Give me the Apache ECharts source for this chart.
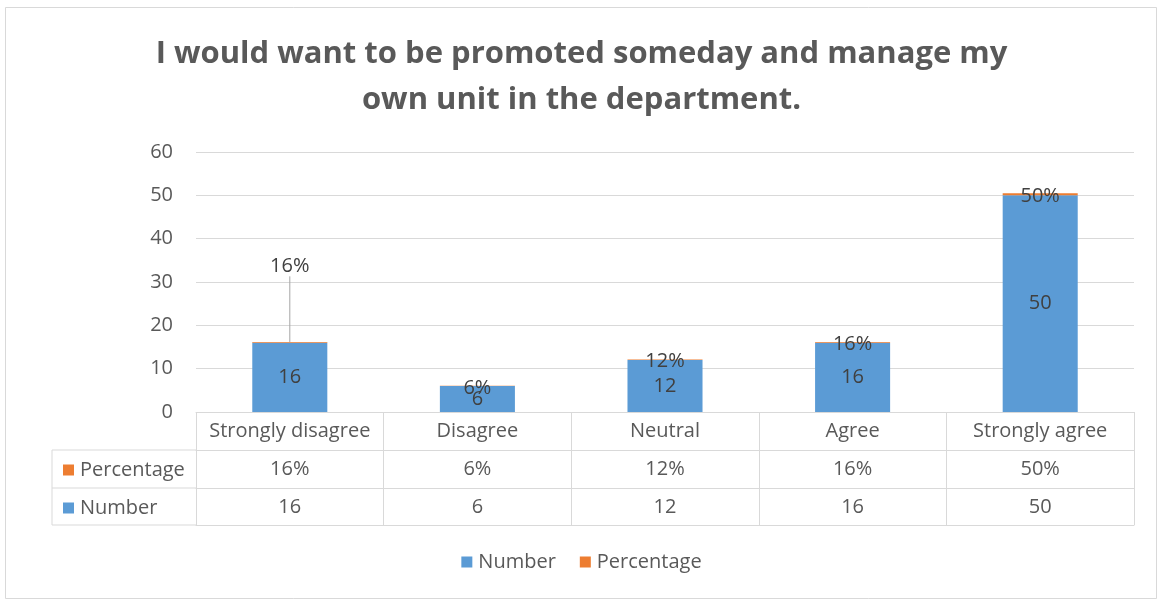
<!DOCTYPE html>
<html>
<head>
<meta charset="utf-8">
<script src="https://cdn.jsdelivr.net/npm/echarts@6/dist/echarts.min.js"></script>
<style>
  html, body { margin: 0; padding: 0; background: #fff; }
  #chart { width: 1163px; height: 600px; }
</style>
</head>
<body>
<div id="chart"></div>
<script>
// Survey responses
const titleText = 'I would want to be promoted someday and manage my\nown unit in the department.';
const categories = ['Strongly disagree', 'Disagree', 'Neutral', 'Agree', 'Strongly agree'];
const numbers = [16, 6, 12, 16, 50];
const percentages = [16, 6, 12, 16, 50];   // shown as "%"
const yTicks = { min: 0, max: 60, interval: 10 };

const FONT = '"Open Sans", Lato, sans-serif';
const TEXT = '#595959';
const LABEL = '#404040';
const RULE = '#d9d9d9';
const BLUE = '#5b9bd5';
const ORANGE = '#ed7d31';
const FS = 20;

// plot area and data table geometry
const G = { left: 196, right: 29, top: 152, bottom: 188 };
const ROW = 38;             // table row height
const TABLE_LEFT = 52;      // left edge of the series-name column
const W = 1163, H = 600;
const axisY = H - G.bottom;

const pctLabels = percentages.map(p => p + '%');
const pctValues = percentages.map(p => p / 100);

const chart = echarts.init(document.getElementById('chart'));

function rowAxis(data, offset, showLabel) {
  return {
    type: 'category',
    data: data,
    position: 'bottom',
    offset: offset,
    boundaryGap: true,
    axisLine: { show: true, lineStyle: { color: RULE, width: 1 } },
    axisTick: { show: false },
    axisLabel: {
      show: showLabel, interval: 0, margin: 7,
      fontFamily: FONT, fontSize: FS, lineHeight: 24, color: TEXT
    },
    splitLine: { show: false }
  };
}

const tableLines = [];
for (let i = 1; i <= 3; i++) {
  const y = axisY + ROW * i - (i === 3 ? 1 : 0);
  tableLines.push({
    type: 'line',
    shape: { x1: TABLE_LEFT, y1: y, x2: G.left, y2: y },
    style: { stroke: RULE, lineWidth: 1 }
  });
}
tableLines.push({
  type: 'line',
  shape: { x1: TABLE_LEFT, y1: axisY + ROW, x2: TABLE_LEFT, y2: axisY + ROW * 3 - 1 },
  style: { stroke: RULE, lineWidth: 1 }
});

chart.setOption({
  backgroundColor: '#fff',
  animation: false,
  title: {
    text: titleText,
    left: 'center',
    top: 26,
    textStyle: { fontFamily: FONT, fontSize: 31, fontWeight: 'bold', color: TEXT, lineHeight: 46 }
  },
  legend: [
    {
      data: ['Number', 'Percentage'],
      bottom: 23,
      left: 'center',
      itemWidth: 11, itemHeight: 11, itemGap: 24,
      icon: 'rect',
      selectedMode: false,
      textStyle: { fontFamily: FONT, fontSize: FS, color: TEXT, padding: [0, 0, 0, 1] }
    },
    {
      data: ['Percentage', 'Number'],
      orient: 'vertical',
      left: TABLE_LEFT + 6,
      top: axisY + ROW + 2,
      itemWidth: 11, itemHeight: 11, itemGap: 12,
      icon: 'rect',
      selectedMode: false,
      textStyle: { fontFamily: FONT, fontSize: FS, color: TEXT, lineHeight: 26, padding: [0, 0, 0, 1] }
    }
  ],
  grid: { left: G.left, right: G.right, top: G.top, bottom: G.bottom, containLabel: false },
  xAxis: [
    {
      type: 'category',
      data: categories,
      boundaryGap: true,
      axisLine: { show: true, lineStyle: { color: RULE, width: 1 } },
      axisTick: { show: true, interval: 0, length: ROW * 3 - 1, lineStyle: { color: RULE, width: 1 } },
      axisLabel: { interval: 0, margin: 7, fontFamily: FONT, fontSize: FS, lineHeight: 24, color: TEXT },
      splitLine: { show: false }
    },
    rowAxis(pctLabels, ROW, true),
    rowAxis(numbers.map(String), ROW * 2, true),
    rowAxis(categories.map(() => ''), ROW * 3 - 1, false)
  ],
  yAxis: {
    type: 'value',
    min: yTicks.min, max: yTicks.max, interval: yTicks.interval,
    axisLine: { show: false },
    axisTick: { show: false },
    axisLabel: { margin: 23, fontFamily: FONT, fontSize: FS, color: TEXT },
    splitLine: { lineStyle: { color: RULE, width: 1 } }
  },
  series: [
    {
      name: 'Number',
      type: 'bar',
      stack: 'total',
      barWidth: '40%',
      data: numbers,
      itemStyle: { color: BLUE },
      label: {
        show: true, position: 'inside',
        fontFamily: FONT, fontSize: FS, color: LABEL
      }
    },
    {
      name: 'Percentage',
      type: 'bar',
      stack: 'total',
      barWidth: '40%',
      data: pctValues,
      itemStyle: { color: ORANGE },
      label: {
        show: true, position: 'inside',
        fontFamily: FONT, fontSize: FS, color: LABEL,
        formatter: p => pctLabels[p.dataIndex]
      },
      labelLine: { show: true, lineStyle: { color: '#a6a6a6', width: 1 } },
      labelLayout: function (params) {
        // the first callout is lifted above its short bar with a leader line
        if (params.dataIndex === 0) return { dy: -76 };
        return { dy: 2 };
      }
    }
  ],
  graphic: [
    {
      type: 'rect',
      shape: { x: 5.5, y: 7.5, width: W - 12, height: H - 9 },
      style: { fill: null, stroke: RULE, lineWidth: 1 },
      silent: true
    }
  ].concat(tableLines)
});
</script>
</body>
</html>
